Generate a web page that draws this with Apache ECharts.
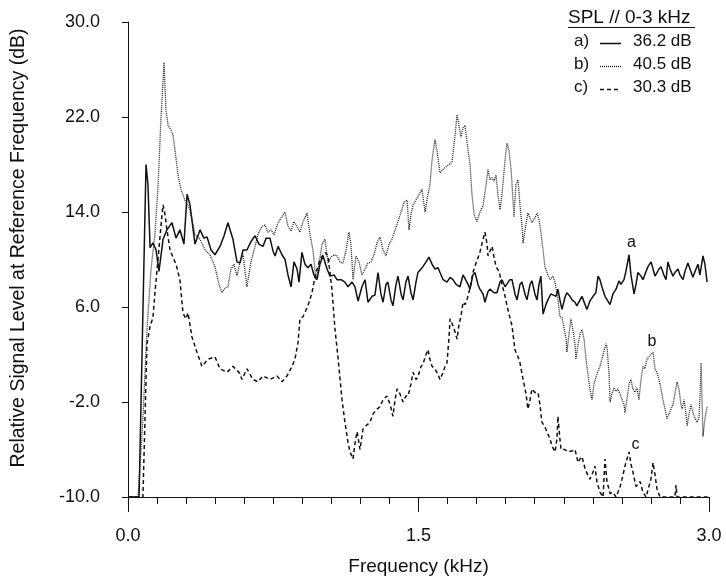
<!DOCTYPE html>
<html>
<head>
<meta charset="utf-8">
<script src="https://cdn.jsdelivr.net/npm/echarts@6/dist/echarts.min.js"></script>
<style>html,body{margin:0;padding:0;background:#fff}#c{width:726px;height:576px}</style>
</head>
<body>
<div id="c"></div>
<script>
// ---- data (frequency kHz, level dB) ----
const curveA = [[0,-10],[0.04,-10],[0.057,-10],[0.093,18.0],[0.103,16.3],[0.114,11.0],[0.129,11.4],[0.145,10.8],[0.160,9.0],[0.181,11.7],[0.201,12.5],[0.227,13.1],[0.248,11.8],[0.268,12.5],[0.289,11.3],[0.305,15.5],[0.320,14.6],[0.346,11.3],[0.372,12.5],[0.392,11.8],[0.408,11.9],[0.429,10.8],[0.449,10.4],[0.475,11.1],[0.496,12.0],[0.516,13.1],[0.542,11.7],[0.563,9.8],[0.578,9.7],[0.594,10.8],[0.614,10.8],[0.635,11.5],[0.656,12.0],[0.676,11.3],[0.697,11.1],[0.713,11.8],[0.733,11.8],[0.749,10.7],[0.759,10.3],[0.775,11.1],[0.795,10.4],[0.811,10.0],[0.826,8.7],[0.842,7.7],[0.857,9.8],[0.873,9.2],[0.883,8.1],[0.898,10.6],[0.914,9.6],[0.929,9.3],[0.945,9.6],[0.960,8.7],[0.976,8.3],[0.991,9.6],[1.007,10.3],[1.028,9.2],[1.043,8.6],[1.064,8.7],[1.079,8.3],[1.100,8.3],[1.120,8.1],[1.136,7.7],[1.157,8.1],[1.172,7.7],[1.188,6.5],[1.208,7.7],[1.224,8.3],[1.239,6.4],[1.260,6.9],[1.275,7.0],[1.291,8.9],[1.306,7.1],[1.317,6.4],[1.332,7.9],[1.342,8.1],[1.358,6.6],[1.368,6.1],[1.384,7.9],[1.394,8.6],[1.410,7.1],[1.420,6.6],[1.435,8.1],[1.446,8.6],[1.461,7.2],[1.472,6.6],[1.487,8.1],[1.497,8.9],[1.513,9.2],[1.523,9.4],[1.539,9.8],[1.554,10.2],[1.570,9.6],[1.585,9.2],[1.601,9.3],[1.611,8.9],[1.627,8.3],[1.647,8.1],[1.663,8.5],[1.678,8.3],[1.694,7.9],[1.714,7.7],[1.730,8.7],[1.740,8.6],[1.756,7.9],[1.766,7.5],[1.781,8.7],[1.792,8.9],[1.807,7.9],[1.817,7.5],[1.833,7.1],[1.843,6.4],[1.859,7.3],[1.869,7.5],[1.890,7.2],[1.905,7.2],[1.921,8.1],[1.931,8.3],[1.947,7.7],[1.957,7.7],[1.972,8.3],[1.983,8.3],[1.998,7.1],[2.009,6.6],[2.024,7.9],[2.034,8.1],[2.050,7.1],[2.060,6.6],[2.076,7.9],[2.086,8.2],[2.101,7.1],[2.112,6.6],[2.122,7.9],[2.132,8.6],[2.143,5.4],[2.158,6.2],[2.168,6.6],[2.184,7.1],[2.194,7.2],[2.210,6.9],[2.220,7.5],[2.230,6.6],[2.241,5.8],[2.256,6.8],[2.266,7.2],[2.282,6.9],[2.293,6.6],[2.308,6.4],[2.318,6.1],[2.334,6.6],[2.344,6.9],[2.360,6.2],[2.370,5.8],[2.385,6.5],[2.401,6.9],[2.416,7.2],[2.427,8.6],[2.437,8.3],[2.447,7.7],[2.463,6.9],[2.478,6.5],[2.489,6.2],[2.504,7.1],[2.520,7.5],[2.535,8.2],[2.545,7.9],[2.561,8.3],[2.571,9.0],[2.587,10.4],[2.597,8.7],[2.613,7.1],[2.623,7.9],[2.633,8.9],[2.649,8.6],[2.659,8.3],[2.675,9.0],[2.685,9.4],[2.701,9.8],[2.711,9.2],[2.721,8.6],[2.742,9.2],[2.752,9.4],[2.767,8.7],[2.778,8.3],[2.788,9.8],[2.799,9.2],[2.814,8.6],[2.824,8.9],[2.840,9.2],[2.850,8.7],[2.866,8.3],[2.876,9.0],[2.891,9.7],[2.902,9.2],[2.917,8.5],[2.928,9.0],[2.943,9.6],[2.953,8.7],[2.969,10.3],[2.979,9.6],[2.990,8.1]];

const curveB = [[0,-10],[0.052,-10],[0.077,-3.4],[0.098,4.1],[0.119,9.2],[0.139,12.1],[0.155,16.1],[0.170,21.8],[0.186,26.6],[0.196,22.6],[0.207,21.3],[0.222,20.9],[0.232,20.5],[0.243,19.2],[0.258,17.1],[0.274,15.9],[0.294,15.0],[0.320,14.2],[0.346,12.1],[0.372,11.7],[0.398,10.8],[0.423,10.4],[0.449,9.4],[0.470,7.9],[0.485,7.2],[0.501,7.6],[0.516,7.7],[0.532,9.2],[0.547,9.6],[0.563,8.6],[0.578,9.8],[0.594,10.4],[0.614,7.7],[0.635,9.8],[0.656,11.1],[0.671,12.1],[0.692,12.8],[0.707,12.9],[0.723,12.3],[0.738,12.5],[0.754,12.1],[0.775,13.1],[0.790,13.5],[0.811,14.0],[0.826,12.8],[0.842,12.4],[0.857,13.2],[0.873,12.8],[0.888,12.3],[0.904,13.2],[0.924,13.9],[0.940,12.1],[0.955,10.8],[0.971,8.3],[0.986,9.6],[1.002,11.3],[1.017,11.7],[1.033,9.7],[1.048,10.2],[1.064,10.4],[1.079,10.3],[1.095,9.8],[1.110,9.7],[1.126,10.8],[1.141,12.3],[1.151,11.3],[1.162,8.3],[1.177,10.3],[1.193,9.8],[1.208,8.7],[1.224,9.2],[1.239,9.7],[1.255,9.8],[1.270,10.4],[1.286,11.4],[1.301,11.9],[1.317,10.8],[1.332,10.3],[1.348,11.3],[1.363,11.7],[1.379,12.5],[1.394,13.2],[1.410,14.0],[1.425,14.8],[1.441,15.0],[1.451,12.5],[1.461,13.8],[1.472,14.6],[1.487,15.0],[1.503,15.5],[1.518,15.9],[1.534,14.0],[1.549,15.5],[1.559,16.3],[1.570,18.4],[1.585,20.1],[1.595,19.2],[1.611,17.3],[1.627,17.6],[1.642,17.8],[1.657,18.0],[1.673,18.2],[1.689,20.5],[1.699,22.2],[1.709,21.3],[1.719,20.3],[1.730,21.1],[1.740,21.3],[1.756,19.2],[1.766,18.0],[1.776,15.5],[1.787,13.8],[1.802,13.2],[1.817,14.0],[1.833,14.5],[1.849,16.3],[1.859,17.6],[1.869,16.7],[1.880,16.9],[1.890,16.6],[1.900,17.1],[1.910,15.5],[1.921,14.2],[1.931,15.5],[1.947,18.4],[1.957,19.8],[1.967,19.2],[1.978,17.6],[1.988,15.0],[1.993,13.6],[2.003,16.3],[2.014,16.7],[2.024,14.6],[2.034,12.9],[2.040,11.4],[2.050,12.5],[2.065,13.9],[2.076,13.5],[2.086,13.1],[2.101,13.5],[2.112,13.9],[2.122,13.4],[2.132,12.3],[2.143,10.8],[2.153,9.4],[2.168,8.7],[2.179,8.3],[2.194,8.6],[2.205,8.1],[2.220,6.6],[2.230,5.2],[2.241,5.1],[2.251,5.0],[2.262,3.3],[2.266,2.2],[2.277,3.7],[2.287,5.0],[2.297,4.1],[2.308,2.9],[2.313,1.6],[2.324,2.9],[2.334,3.7],[2.344,4.1],[2.355,3.3],[2.365,1.6],[2.375,0.3],[2.385,-0.9],[2.396,-1.8],[2.406,-0.5],[2.416,0.1],[2.427,0.6],[2.437,1.0],[2.447,1.6],[2.458,2.3],[2.468,2.9],[2.473,2.7],[2.484,0.3],[2.489,-2.0],[2.499,-1.3],[2.509,-0.8],[2.520,-1.1],[2.530,-0.9],[2.540,-1.3],[2.551,-1.8],[2.561,-2.2],[2.566,-2.9],[2.576,-1.8],[2.587,-0.5],[2.597,-0.1],[2.607,-0.9],[2.618,-1.2],[2.628,-0.8],[2.638,-1.8],[2.649,-0.1],[2.659,1.0],[2.669,0.8],[2.680,1.6],[2.690,1.8],[2.700,2.0],[2.711,2.2],[2.721,0.8],[2.731,0.5],[2.742,-0.1],[2.752,-0.9],[2.762,-1.8],[2.773,-2.6],[2.783,-3.4],[2.793,-3.3],[2.804,-2.6],[2.814,-2.2],[2.824,-1.3],[2.835,-0.3],[2.845,-0.9],[2.855,-2.2],[2.861,-2.6],[2.871,-1.8],[2.881,-3.0],[2.887,-4.0],[2.897,-3.0],[2.907,-2.2],[2.917,-2.9],[2.928,-3.4],[2.938,-3.7],[2.948,-3.4],[2.953,-1.8],[2.959,1.3],[2.964,-1.8],[2.969,-4.9],[2.979,-3.4],[2.990,-2.4]];

const curveC = [[0,-10],[0.077,-10],[0.098,2.9],[0.114,4.4],[0.129,5.1],[0.139,7.2],[0.155,10.0],[0.170,12.8],[0.181,14.6],[0.191,13.8],[0.201,12.5],[0.217,10.8],[0.232,10.2],[0.248,9.6],[0.268,8.3],[0.284,5.5],[0.299,5.0],[0.310,5.5],[0.330,3.5],[0.356,2.2],[0.382,1.0],[0.413,1.6],[0.449,1.8],[0.475,0.8],[0.511,0.5],[0.542,1.0],[0.573,0.5],[0.589,-0.1],[0.614,0.8],[0.645,-0.1],[0.671,-0.3],[0.697,0.2],[0.733,-0.1],[0.769,0.2],[0.795,-0.3],[0.821,0.2],[0.847,1.0],[0.862,1.6],[0.878,3.0],[0.888,5.0],[0.904,5.2],[0.929,6.1],[0.950,7.2],[0.966,8.6],[0.991,10.0],[1.017,10.6],[1.033,10.3],[1.053,7.5],[1.069,4.1],[1.084,1.8],[1.105,-1.8],[1.120,-3.7],[1.136,-5.4],[1.146,-6.2],[1.162,-6.8],[1.172,-5.5],[1.183,-4.5],[1.198,-6.0],[1.213,-4.3],[1.229,-4.0],[1.250,-3.7],[1.265,-3.0],[1.286,-2.6],[1.301,-2.4],[1.317,-1.8],[1.337,-1.5],[1.353,-2.2],[1.368,-3.2],[1.379,-1.8],[1.389,-0.9],[1.404,-1.3],[1.420,-2.0],[1.435,-1.5],[1.446,-1.5],[1.461,-0.5],[1.472,0.5],[1.487,-0.1],[1.497,0.1],[1.513,1.0],[1.523,1.2],[1.539,2.0],[1.549,2.4],[1.559,1.6],[1.570,1.0],[1.585,0.8],[1.601,0.3],[1.611,-0.1],[1.627,0.5],[1.637,1.0],[1.647,1.3],[1.657,3.3],[1.663,5.0],[1.678,4.4],[1.689,3.9],[1.699,3.3],[1.709,4.5],[1.719,5.2],[1.730,6.4],[1.740,6.2],[1.750,6.6],[1.766,7.6],[1.781,8.9],[1.797,9.7],[1.817,10.6],[1.833,11.7],[1.843,12.3],[1.854,11.3],[1.859,10.3],[1.869,10.7],[1.880,11.1],[1.890,10.2],[1.900,9.4],[1.916,9.0],[1.931,7.9],[1.947,6.9],[1.957,6.1],[1.972,5.1],[1.983,4.4],[1.998,2.4],[2.014,1.8],[2.024,1.3],[2.040,-0.1],[2.055,-1.3],[2.065,-2.6],[2.076,-1.8],[2.086,-0.9],[2.101,-1.2],[2.117,-1.2],[2.127,-2.2],[2.137,-3.7],[2.153,-4.1],[2.163,-4.5],[2.179,-5.1],[2.189,-5.7],[2.205,-6.2],[2.215,-5.1],[2.220,-3.2],[2.230,-5.1],[2.236,-6.0],[2.246,-6.1],[2.256,-6.0],[2.272,-6.2],[2.282,-6.2],[2.297,-6.1],[2.308,-6.0],[2.324,-7.1],[2.334,-6.8],[2.344,-6.6],[2.360,-7.6],[2.375,-8.2],[2.385,-8.5],[2.401,-7.9],[2.411,-7.4],[2.421,-8.7],[2.437,-9.6],[2.453,-10],[2.463,-6.8],[2.473,-8.7],[2.489,-9.7],[2.504,-9.6],[2.520,-10],[2.530,-10],[2.540,-9.2],[2.551,-8.5],[2.566,-7.4],[2.587,-6.2],[2.597,-7.2],[2.607,-7.9],[2.623,-9.1],[2.638,-8.9],[2.644,-8.7],[2.659,-9.6],[2.675,-10],[2.685,-10],[2.700,-8.5],[2.711,-7.1],[2.721,-8.1],[2.731,-9.3],[2.747,-10],[2.824,-10],[2.830,-9.0],[2.835,-10],[2.995,-10]];

const seriesNames = ['a)', 'b)', 'c)'];
const splValues = ['36.2 dB', '40.5 dB', '30.3 dB'];
const curveLabels = [['a', 2.60, 11.4], ['b', 2.705, 3.1], ['c', 2.62, -5.6]];
const xTickLabels = [0, 1.5, 3.0];
const yTicks = {min: -10, max: 30, step: 8};

const FONT = '"Liberation Sans", Arial, sans-serif';
const INK = '#111';
const styles = [
  {width: 1.5, type: 'solid', color: '#111'},
  {width: 1.3, type: [1, 1], color: '#222'},
  {width: 1.5, type: [4, 3], color: '#111'}
];
const curves = [curveA, curveB, curveC];

const chart = echarts.init(document.getElementById('c'), null, {renderer: 'canvas'});

const series = curves.map((d, i) => ({
  name: seriesNames[i],
  type: 'line',
  data: d,
  symbol: 'none',
  smooth: false,
  clip: true,
  animation: false,
  lineStyle: {color: styles[i].color, width: styles[i].width, type: styles[i].type},
  markPoint: {
    symbol: 'circle', symbolSize: 1,
    itemStyle: {color: 'rgba(0,0,0,0)'},
    label: {show: true, position: 'inside', formatter: curveLabels[i][0], color: INK, fontSize: 16, fontFamily: FONT},
    data: [{coord: [curveLabels[i][1], curveLabels[i][2]]}]
  }
}));

const legendRows = [];
const rowY = [43, 66, 89];
seriesNames.forEach((n, i) => {
  legendRows.push({type: 'text', left: 574, top: rowY[i] - 10, style: {text: n, font: '17px ' + FONT, fill: INK}});
  legendRows.push({type: 'line', shape: {x1: 600, y1: rowY[i] + 0.5, x2: 621, y2: rowY[i] + 0.5},
    style: {stroke: INK, lineWidth: styles[i].width, lineDash: styles[i].type === 'solid' ? null : styles[i].type}});
  legendRows.push({type: 'text', left: 633, top: rowY[i] - 10, style: {text: splValues[i], font: '17px ' + FONT, fill: INK}});
});

chart.setOption({
  backgroundColor: '#fff',
  animation: false,
  grid: {left: 128, right: 17, top: 22, bottom: 79, containLabel: false, outerBoundsMode: 'none'},
  xAxis: {
    type: 'value', min: 0, max: 3, interval: 1.5,
    name: 'Frequency (kHz)', nameLocation: 'middle', nameGap: 60,
    nameTextStyle: {fontFamily: FONT, fontSize: 19, color: INK},
    axisLine: {show: true, onZero: false, lineStyle: {color: INK, width: 1}},
    axisTick: {show: true, length: 15, lineStyle: {color: INK, width: 1}},
    minorTick: {show: true, splitNumber: 10, length: 7, lineStyle: {color: INK, width: 1}},
    splitLine: {show: false},
    minorSplitLine: {show: false},
    axisLabel: {fontFamily: FONT, fontSize: 18, color: INK, margin: 30,
      formatter: v => xTickLabels.some(t => Math.abs(t - v) < 1e-6) ? v.toFixed(1) : ''}
  },
  yAxis: {
    type: 'value', min: yTicks.min, max: yTicks.max, interval: yTicks.step,
    name: 'Relative Signal Level at Reference Frequency (dB)', nameLocation: 'middle', nameGap: 99,
    nameTextStyle: {fontFamily: FONT, fontSize: 19.5, color: INK, padding: [0, 0, 0, 23]},
    axisLine: {show: true, onZero: false, lineStyle: {color: INK, width: 1}},
    axisTick: {show: true, length: 6, lineStyle: {color: INK, width: 1}},
    splitLine: {show: false},
    axisLabel: {fontFamily: FONT, fontSize: 18, color: INK, margin: 28, formatter: v => v.toFixed(1)}
  },
  graphic: [
    {type: 'text', left: 568, top: 8, style: {text: 'SPL // 0-3 kHz', font: '19px ' + FONT, fill: INK}},
    {type: 'line', shape: {x1: 568, y1: 27.5, x2: 695, y2: 27.5}, style: {stroke: INK, lineWidth: 1}}
  ].concat(legendRows),
  series: series
});
</script>
</body>
</html>
